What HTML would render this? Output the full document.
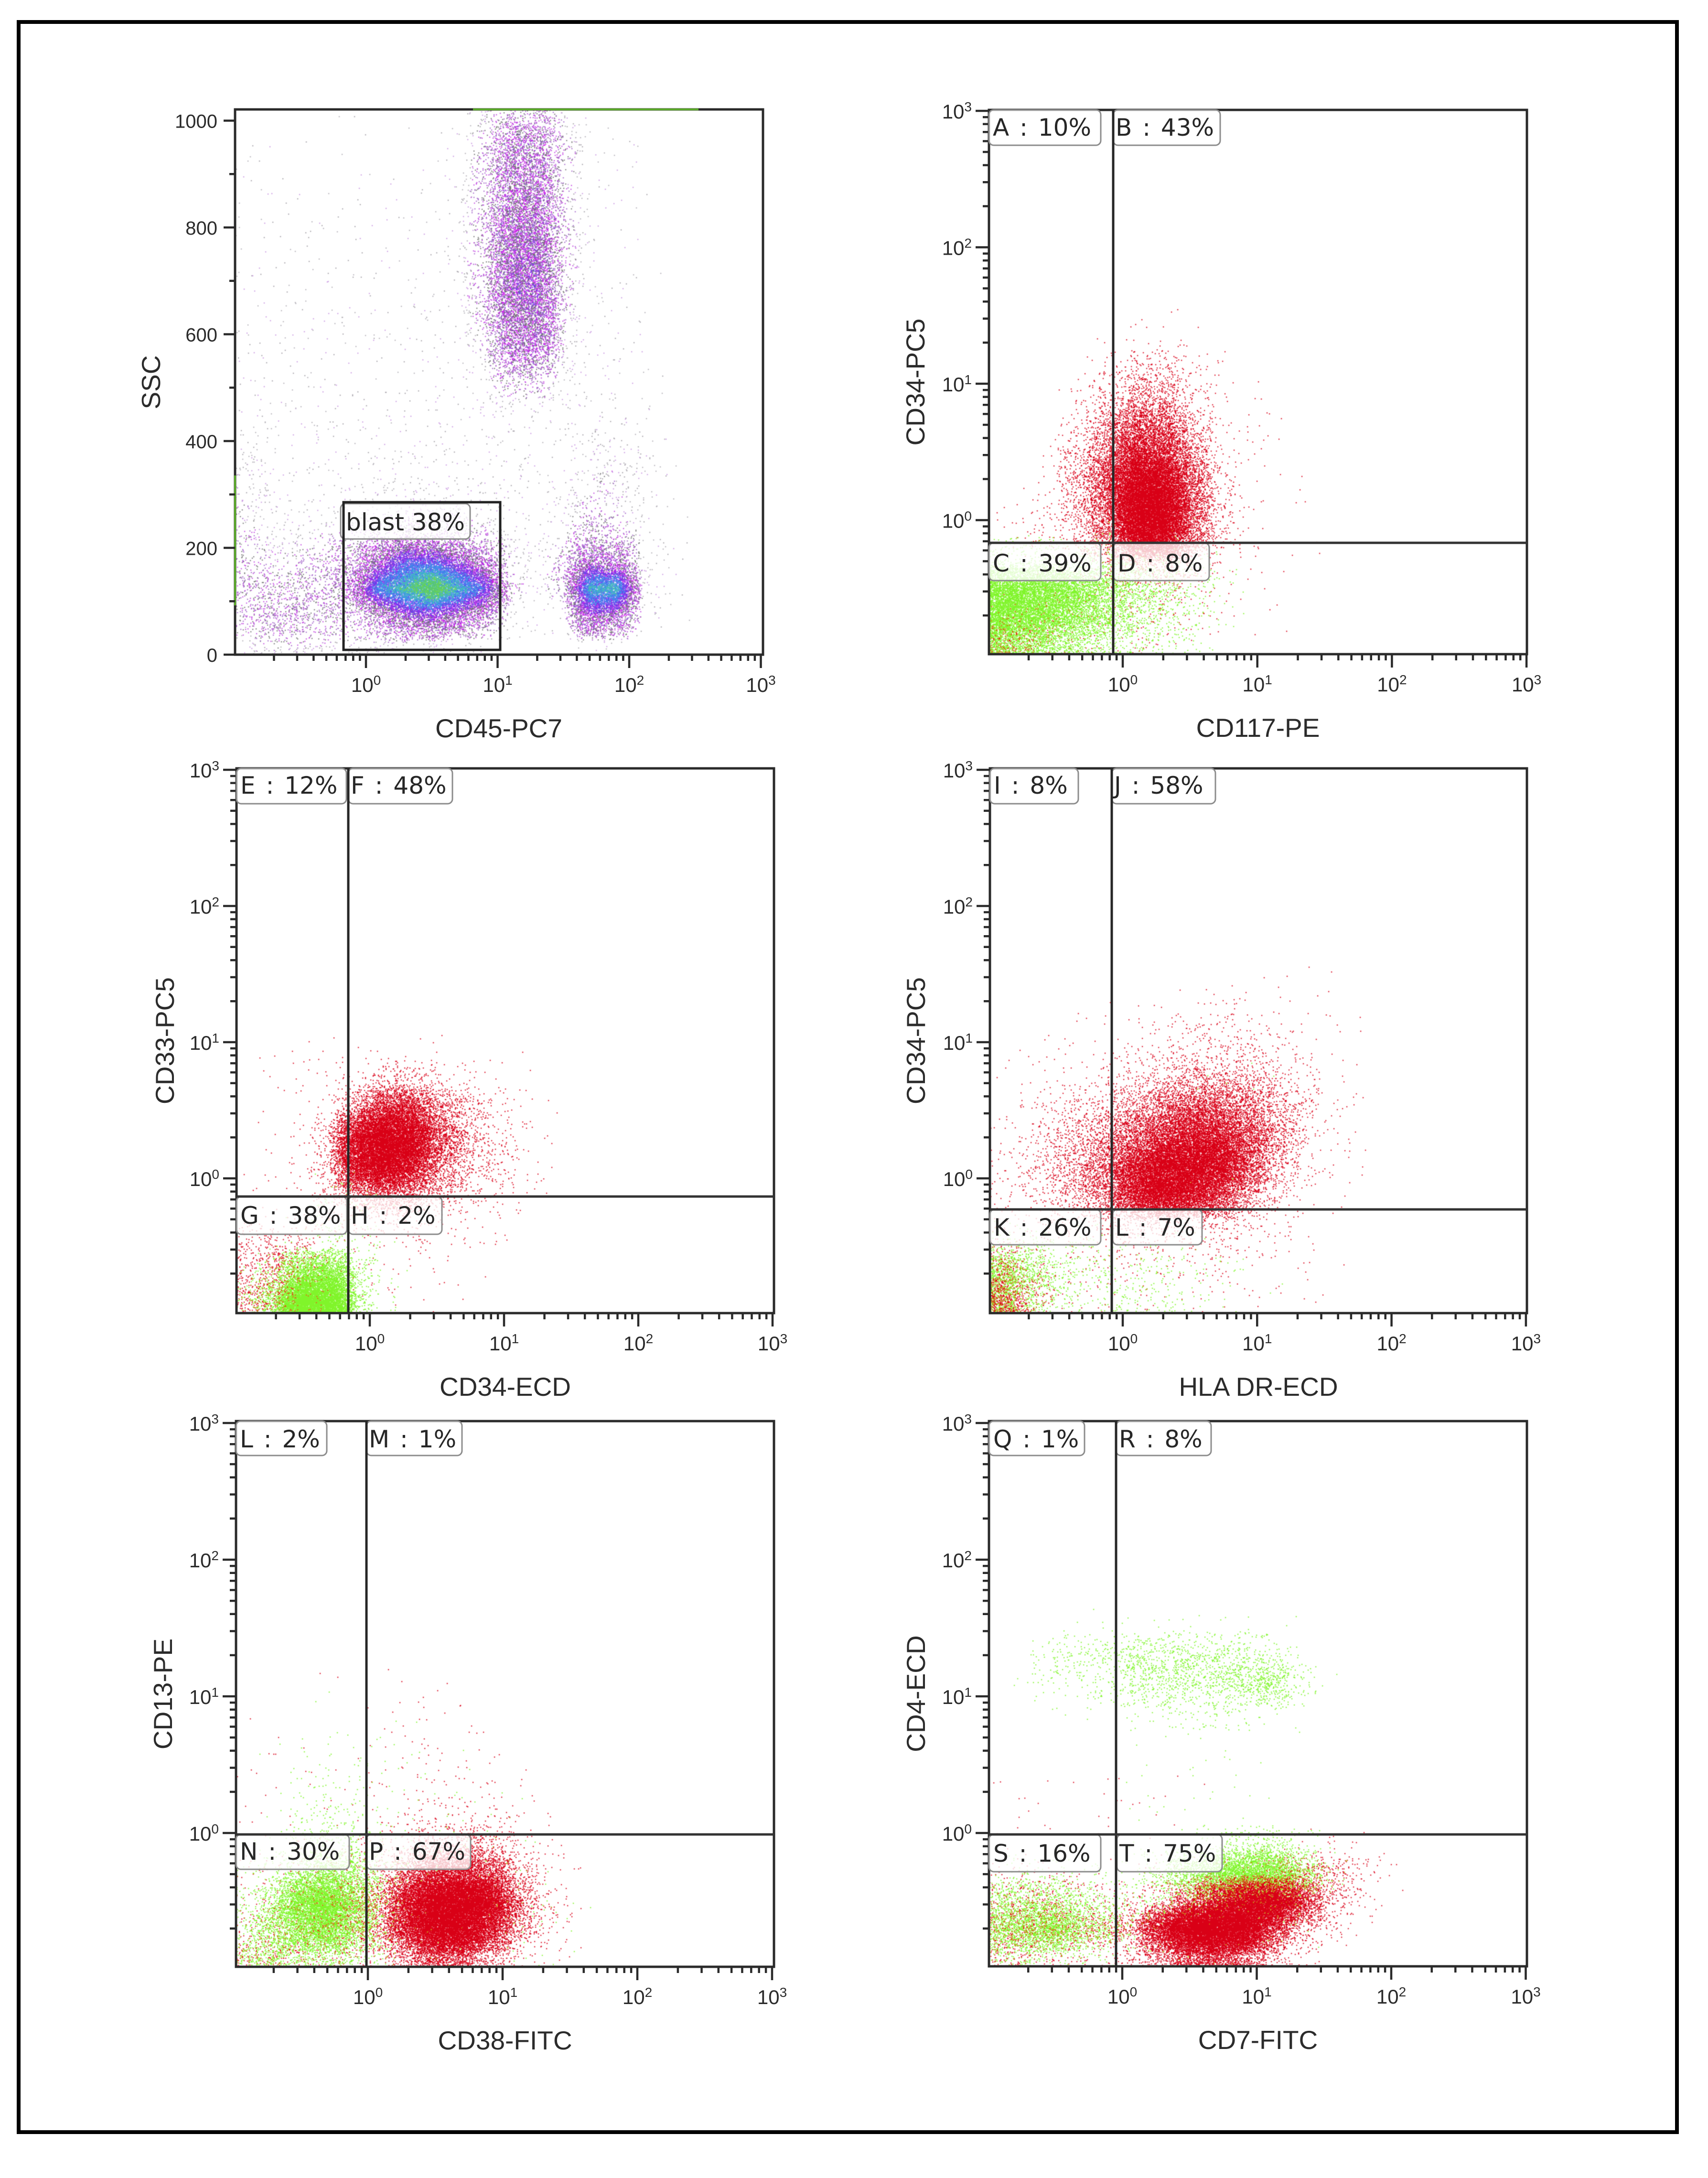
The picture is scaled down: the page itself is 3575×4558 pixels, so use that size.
<!DOCTYPE html>
<html lang="en">
<head>
<meta charset="utf-8">
<title>Flow cytometry dot plots</title>
<style>
html,body{margin:0;padding:0;background:#fff;}
svg{display:block;}
text{font-family:"Liberation Sans",sans-serif;fill:#2b2b2b;}
.tag{font-family:"DejaVu Sans","Liberation Sans",sans-serif;font-size:50px;fill:#262626;}
</style>
</head>
<body>
<svg id="chart" xmlns="http://www.w3.org/2000/svg" width="3575" height="4558" viewBox="0 0 3575 4558">
<defs><filter id="soft" x="-2%" y="-2%" width="104%" height="104%"><feGaussianBlur stdDeviation="0.8"/></filter></defs>
<rect x="0" y="0" width="3575" height="4558" fill="#ffffff"/>
<rect x="39" y="46" width="3471" height="4416" fill="none" stroke="#000" stroke-width="8"/>
</svg>
<script>
// Event density per grid cell.
// Log panels: columns start at log10 = -1 (0.2 decade wide); rows start at log10 = 1.6 going down (0.2 decade tall).
const cd117Green = [[],[],[],[],[],[],[],[],
 [0,0,0,0,5,5,5,2],
 [60,60,60,60,40,40,30,15,5],
 [500,500,450,350,200,120,70,30,8],
 [550,500,400,280,150,80,50,20,5],
 [300,250,180,120,60,30,20,10,3]];
const cd117Red = [
 [0,0,0,0,0,0,1,1],
 [0,0,0,0,1,8,8,3,1],
 [0,0,0,1,15,45,45,12,3,1],
 [0,0,0,8,50,110,110,30,5,2,1],
 [0,0,2,25,110,280,260,70,8,3,2],
 [0,0,8,60,210,500,450,160,15,3,2],
 [0,2,12,100,320,800,750,260,30,4,2,1],
 [1,8,15,90,300,1000,1000,300,40,5,1,1],
 [3,8,12,50,200,800,800,250,30,4,0,1],
 [1,1,3,10,40,80,80,40,12,4,1],
 [0,0,2,4,10,15,15,10,5,2,1],
 [10,15,15,12,10,12,10,6,2,1,1],
 [80,40,15,8,5,8,5,2]];
const cd34Green = [[],[],[],[],[],[],[],
 [0,0,0,1],
 [0,0,1,10,10,2],
 [0,0,4,15,8,2],
 [0,1,10,20,10,2],
 [10,60,400,500,60,3],
 [15,100,800,700,70,3],
 [20,120,500,400,40,2]];
const cd34Red = [[],[],
 [],
 [0,1,3,2,3,3,3,2,2,1,1],
 [0,2,3,4,10,50,60,30,12,5,2,1],
 [0,2,3,10,150,500,450,180,60,20,5,1],
 [0,2,3,60,600,1000,800,300,90,30,8,2],
 [1,2,5,50,600,900,600,200,70,30,10,3],
 [1,3,5,20,150,250,180,80,30,15,5,2],
 [1,2,5,10,20,25,20,12,6,3,1],
 [40,60,30,4,4,6,6,4,3,1],
 [60,80,30,3,3,4,4,3,1],
 [80,70,20,2,1,2,1,1]];
const hlaGreen = [[],[],[],[],
 [0,0,0,0,0,0,0,1,1,1,1],
 [],[],[],
 [0,0,0,0,0,0,1,1,1],
 [],
 [40,40,20,10,10,4,3,3,2,1],
 [250,130,50,25,20,20,20,8,4,2,1],
 [200,80,30,15,15,25,20,6,3,1]];
const hlaRed = [
 [0,0,0,0,0,0,0,0,0,0,1,0,1],
 [0,0,0,0,1,0,2,3,5,5,2,1,1],
 [0,0,1,1,1,3,8,12,16,16,8,4,2,1],
 [0,2,3,4,5,15,25,30,35,35,20,8,3,1],
 [2,4,6,8,15,40,70,100,110,90,50,20,5,1],
 [3,8,20,35,60,130,220,320,300,220,120,40,8,2],
 [6,12,40,90,150,280,420,550,550,350,170,40,5,2],
 [10,20,60,120,230,500,750,850,700,350,110,20,3,3],
 [12,18,40,90,220,600,800,650,450,160,40,10,2],
 [6,10,15,30,50,70,70,50,40,20,10,4,1],
 [30,8,6,8,12,15,12,10,20,10,6,3,1],
 [100,30,8,6,6,6,6,6,8,4,2,2,1],
 [250,70,8,3,3,3,2,2,2,1,1,1,1]];
const cd38Green = [[],[],[],
 [0,0,0,1,0,0,1],
 [0,0,1,1,1,2],
 [0,1,3,4,3,2,2,1,1],
 [0,1,6,12,8,3,2,1,1,1],
 [0,2,15,25,15,4,3,2,2,1,1],
 [2,5,25,50,40,10,5,3,3,2,1],
 [5,30,120,250,150,30,8,4,3,3,3,1],
 [20,120,500,650,300,50,10,5,5,5,5,3,1],
 [40,180,350,450,200,40,8,5,5,5,5,3,1],
 [80,120,100,100,60,15,4,2,2,2,2,1,1]];
const cd38Red = [[],[],
 [0,0,0,1,0,1,0,1],
 [0,0,0,0,0,2,2,2,1],
 [0,1,1,0,0,2,3,2,2,1],
 [1,1,1,0,1,2,3,4,4,2,1],
 [1,1,1,1,1,2,3,5,6,4,2],
 [1,1,1,1,2,3,8,12,15,12,5,2],
 [2,2,3,5,8,15,40,100,110,70,20,5,1],
 [5,8,10,15,20,50,200,450,500,350,80,10,3],
 [10,15,20,25,60,120,550,1100,1200,800,200,25,4],
 [15,25,30,40,60,120,500,1000,1000,500,100,20,3],
 [50,50,30,20,25,40,120,300,250,100,20,6,1]];
const cd7Green = [
 [0,0,1,1,1,2,2,2,2,2,1],
 [0,2,30,30,40,70,70,70,55,55,30,6],
 [0,3,16,12,22,70,70,70,75,110,150,30,1],
 [0,0,1,1,3,7,9,20,24,18,3,1],
 [0,0,0,0,0,0,0,1,1],
 [0,0,0,0,0,1,0,1,1,1],
 [0,0,0,0,0,1,1,1,1,1],
 [0,0,0,0,0,1,1,1,1,1,1],
 [0,0,0,0,0,1,3,10,25,50,70,30,4],
 [15,15,15,8,8,20,60,200,350,500,500,200,30],
 [100,130,120,70,25,15,30,50,100,100,80,20],
 [200,300,350,150,100,15,10,15,20,20,10,3],
 [40,50,20,15,5,3,2,2,2]];
const cd7Red = [[],[],[],[],[],[],
 [1,1,1,1,2,1,1,1],
 [1,1,1,1,1,1,1],
 [0,0,0,0,0,0,0,0,0,0,0,3,5,6,2],
 [10,10,8,5,3,3,3,3,5,10,30,70,90,25,8],
 [40,50,50,20,15,20,40,200,500,900,1000,500,90,20,3],
 [60,80,60,60,70,120,600,1200,1400,1100,400,70,25,2],
 [60,30,20,15,15,30,120,300,350,200,60,15,3]];
// CD45 / SSC panel: columns start at log10 = -1 (0.2 decade); rows start at SSC 1050 going down (50 units).
const sscDensity = [
 [0,0,0,0,0,0,0,0,0,15,60,60,12],
 [1,1,1,1,1,1,1,1,3,45,200,200,40,3,2,1],
 [2,1,1,1,1,1,1,1,5,60,250,250,45,3,2,1],
 [2,1,1,1,1,1,1,2,6,60,280,280,45,3,2,1],
 [3,2,2,2,2,2,2,2,6,60,320,320,45,3,2,1],
 [3,2,2,2,2,2,2,3,8,70,380,400,50,3,2,1],
 [3,3,2,2,2,2,2,3,8,70,400,420,50,3,3,1],
 [3,3,3,3,3,3,3,4,6,60,400,420,45,3,3,1],
 [3,4,4,4,3,3,3,4,5,50,350,380,40,4,3,2],
 [4,4,4,4,3,3,3,4,5,35,280,280,30,4,4,2],
 [5,4,4,4,3,3,3,4,5,15,100,100,15,5,5,2],
 [5,4,4,5,4,3,4,5,5,8,20,20,6,6,6,3,1],
 [8,6,5,5,4,4,5,6,5,6,8,8,5,10,10,5,1],
 [15,6,5,5,4,6,6,6,6,6,6,5,6,15,25,10,1],
 [25,8,5,5,6,10,10,10,8,8,6,5,10,25,30,10,1],
 [30,8,6,8,15,15,30,30,25,12,6,4,15,45,30,8,2],
 [35,15,20,30,40,70,90,100,80,40,15,5,20,90,70,12,2],
 [50,30,40,60,130,380,650,650,450,230,25,6,70,330,260,20,3],
 [80,70,80,90,230,800,1000,1300,950,650,50,8,60,900,950,20,3],
 [60,120,100,90,70,200,450,500,350,180,15,3,5,450,350,8,1],
 [20,40,40,30,25,30,30,25,12,5,1,0,0,8,5]];
const xDecades = [0,1,2,3];
const logExponents = [0,1,2,3];
const sscTicks = [0,200,400,600,800,1000];
const sscMinorTicks = [100,300,500,700,900];

const panelLayouts = [
 {key:'cd117',L:2070,R:3196,T:230,B:1369,x1:2350,xD:281.7,y1:1088.5,yD:285.5,vq:2330,hq:1136,xTitle:'CD117-PE',yTitle:'CD34-PC5',yTitleX:1935,green:cd117Green,red:cd117Red,
  tags:[['A : 10%',2070,2304,230,304,2078,284],['B : 43%',2330,2554,230,304,2335,284],['C : 39%',2070,2304,1136,1215,2078,1196],['D : 8%',2330,2531,1136,1215,2339,1196]]},
 {key:'cd34',L:495,R:1620,T:1608,B:2748,x1:774,xD:281,y1:2466,yD:285,vq:729,hq:2504,xTitle:'CD34-ECD',yTitle:'CD33-PC5',yTitleX:364,green:cd34Green,red:cd34Red,
  tags:[['E : 12%',495,725,1608,1682,503,1661],['F : 48%',729,947,1608,1682,734,1661],['G : 38%',495,726,2504,2583,503,2561],['H : 2%',729,925,2504,2583,734,2561]]},
 {key:'hla',L:2072,R:3196,T:1608,B:2748,x1:2350,xD:281.3,y1:2466,yD:285,vq:2327,hq:2531,xTitle:'HLA DR-ECD',yTitle:'CD34-PC5',yTitleX:1936,green:hlaGreen,red:hlaRed,
  tags:[['I : 8%',2072,2257,1608,1682,2080,1661],['J : 58%',2327,2544,1608,1682,2332,1661],['K : 26%',2072,2304,2531,2605,2080,2586],['L : 7%',2329,2516,2531,2605,2334,2586]]},
 {key:'cd38',L:494,R:1620,T:2974,B:4116,x1:770,xD:282,y1:3836,yD:286,vq:767,hq:3839,xTitle:'CD38-FITC',yTitle:'CD13-PE',yTitleX:360,green:cd38Green,red:cd38Red,
  tags:[['L : 2%',494,684,2974,3046,502,3029],['M : 1%',767,967,2974,3046,772,3029],['N : 30%',494,731,3839,3912,502,3892],['P : 67%',767,985,3839,3912,772,3892]]},
 {key:'cd7',L:2070,R:3196,T:2974,B:4115,x1:2349,xD:281.5,y1:3836,yD:286,vq:2336,hq:3839,xTitle:'CD7-FITC',yTitle:'CD4-ECD',yTitleX:1936,green:cd7Green,red:cd7Red,
  tags:[['Q : 1%',2070,2270,2974,3046,2079,3029],['R : 8%',2336,2535,2974,3046,2342,3029],['S : 16%',2070,2304,3839,3917,2079,3896],['T : 75%',2338,2558,3839,3917,2343,3896]]}
];
const sscLayout = {L:492,R:1597,T:229,B:1370,x1:766,xD:275.5,y0:1370,yPerUnit:1.1175};

const svg = document.getElementById('chart');
const NS = 'http://www.w3.org/2000/svg';
const SPREAD = 1;
const DOT = 2.2;
function make(parent, tag, geom){
  const el = document.createElementNS(NS, tag);
  for (const k in geom) el.setAttribute(k, geom[k]);
  parent.appendChild(el);
  return el;
}
// Deterministic jitter generator: only spreads each cell's count into a stipple texture.
let seedState = 12345;
function jitter(){
  seedState = (Math.imul(seedState, 1664525) + 1013904223) >>> 0;
  const v = seedState ^ (seedState >>> 15);
  return ((Math.imul(v, 2654435761) ^ (v >>> 9)) >>> 0) / 4294967296;
}
function triangle(){ return (jitter() + jitter() - 1) * SPREAD; }
// Cell value to stipple count: dense cells saturate to a solid fill as in the reference.
function dotCount(v){ return Math.round(v * (1.5 + Math.min(v, 800) / 600)); }
function sscDotCount(v){ return Math.round(v * (1.3 + Math.min(v, 800) / 1000)); }
function logTicks(){
  const out = [];
  for (let d = -1; d < 3; d++) for (let m = 2; m <= 9; m++) out.push(d + Math.log10(m));
  return out;
}
function drawExponentLabel(parent, x, y, anchor, exp, name){
  const t = make(parent, 'text', {x:x, y:y, 'text-anchor':anchor, 'font-size':42});
  
  
  t.appendChild(document.createTextNode('10'));
  const s = make(t, 'tspan', {dy:-15, 'font-size':28});
  s.textContent = String(exp);
}
function drawXAxis(g, p){
  let major = '', minor = '';
  xDecades.forEach(function(e){ major += 'M' + (p.x1 + e * p.xD) + ' ' + p.B + 'v28'; });
  logTicks().forEach(function(v){ minor += 'M' + (p.x1 + v * p.xD) + ' ' + p.B + 'v13'; });
  const a = make(g, 'path', {d:major + minor, stroke:'#2a2a2a', 'stroke-width':4.5, fill:'none'});
  
  
  xDecades.forEach(function(e){
    drawExponentLabel(g, p.x1 + e * p.xD, p.B + 78, 'middle', e, 'x-tick-label');
  });
}
function drawTitles(g, p, cx, cy, xTitle, yTitle, yTitleX){
  const xt = make(g, 'text', {x:cx, y:p.B + 173, 'text-anchor':'middle', 'font-size':55});
  
  
  xt.textContent = xTitle;
  const yt = make(g, 'text', {x:yTitleX, y:cy, 'text-anchor':'middle', 'font-size':55, transform:'rotate(-90 ' + yTitleX + ' ' + cy + ')'});
  
  
  yt.textContent = yTitle;
}
function drawFrame(g, p){
  const f = make(g, 'rect', {x:p.L, y:p.T, width:p.R - p.L, height:p.B - p.T, fill:'none', stroke:'#2a2a2a', 'stroke-width':5});
  
  
}
function plotGroups(g, p, id){
  const clip = make(svg.querySelector('defs'), 'clipPath', {id:id});
  make(clip, 'rect', {x:p.L, y:p.T, width:p.R - p.L, height:p.B - p.T});
  const outer = make(g, 'g', {'clip-path':'url(#' + id + ')'});
  
  
  const inner = make(outer, 'g', {filter:'url(#soft)'});
  return inner;
}
function stipple(rows, p){
  const parts = [];
  rows.forEach(function(row, r){
    row.forEach(function(count, c){
      const n = dotCount(count);
      for (let i = 0; i < n; i++){
        let lx = -1 + (c + 0.5 + triangle()) * 0.2;
        let ly = 1.6 - (r + 0.5 + triangle()) * 0.2;
        if (lx < -1) lx = -2 - lx;
        if (ly < -1) ly = -2 - ly;
        const px = Math.round(p.x1 + lx * p.xD);
        const py = Math.round(p.y1 - ly * p.yD);
        parts.push('M' + px + ' ' + py + 'h' + DOT + 'v' + DOT + 'h-' + DOT + 'z');
      }
    });
  });
  return parts.join('');
}
panelLayouts.forEach(function(p){
  const g = make(svg, 'g', {});
  
  
  const layer = plotGroups(g, p, 'clip-' + p.key);
  const gp = make(layer, 'path', {d:stipple(p.green, p), fill:'#80f52a'});
  
  
  const rp = make(layer, 'path', {d:stipple(p.red, p), fill:'#d90012'});
  
  
  drawFrame(g, p);
  drawXAxis(g, p);
  let major = '', minor = '';
  logExponents.forEach(function(e){ major += 'M' + p.L + ' ' + (p.y1 - e * p.yD) + 'h-28'; });
  logTicks().forEach(function(v){
    const y = p.y1 - v * p.yD;
    if (y < p.B) minor += 'M' + p.L + ' ' + y + 'h-13';
  });
  const ya = make(g, 'path', {d:major + minor, stroke:'#2a2a2a', 'stroke-width':4.5, fill:'none'});
  
  
  logExponents.forEach(function(e){
    drawExponentLabel(g, p.L - 36, p.y1 - e * p.yD + 16, 'end', e, 'y-tick-label');
  });
  p.tags.forEach(function(t){
    const box = make(g, 'rect', {x:t[1], y:t[3], width:t[2] - t[1], height:t[4] - t[3], rx:10, ry:10, fill:'rgba(255,255,255,0.78)', stroke:'#8c8c8c', 'stroke-width':3});
    
    
  });
  const vl = make(g, 'line', {x1:p.vq, x2:p.vq, y1:p.T, y2:p.B, stroke:'#262626', 'stroke-width':5});
  
  
  const hl = make(g, 'line', {x1:p.L, x2:p.R, y1:p.hq, y2:p.hq, stroke:'#333', 'stroke-width':5});
  
  
  p.tags.forEach(function(t){
    const tx = make(g, 'text', {x:t[5], y:t[6], class:'tag', 'word-spacing':6});
    
    
    tx.textContent = t[0];
  });
  drawTitles(g, p, (p.L + p.R) / 2, (p.T + p.B) / 2, p.xTitle, p.yTitle, p.yTitleX);
});

// CD45 / SSC density plot, coloured by local density
(function(){
  const p = sscLayout;
  const g = make(svg, 'g', {});
  
  
  const layer = plotGroups(g, p, 'clip-ssc');
  const bands = [
    {min:0, name:'sparse', colors:['#a09ca4','#c794e0','#b0acb4']},
    {min:30, name:'low', colors:['#707070','#c040e0','#a060c8']},
    {min:170, name:'mid', colors:['#c81ee8','#8a58d0','#c81ee8','#707070']},
    {min:500, name:'high', colors:['#a020f0','#6a40e8']},
    {min:750, name:'blue', colors:['#4468f0','#3f90e8']},
    {min:1000, name:'cyan', colors:['#3fa8d8','#48c0b0']},
    {min:1200, name:'peak', colors:['#70d840','#58c870']}
  ];
  const paths = {};
  bands.forEach(function(b){ b.colors.forEach(function(c){ paths[b.name + c] = []; }); });
  function cell(r, c){
    const row = sscDensity[r];
    if (!row) return 0;
    return row[c] || 0;
  }
  function density(fr, fc){
    const r0 = Math.floor(fr), c0 = Math.floor(fc), a = fr - r0, b = fc - c0;
    return (1 - a) * ((1 - b) * cell(r0, c0) + b * cell(r0, c0 + 1)) + a * ((1 - b) * cell(r0 + 1, c0) + b * cell(r0 + 1, c0 + 1));
  }
  sscDensity.forEach(function(row, r){
    row.forEach(function(count, c){
      const n = sscDotCount(count);
      for (let i = 0; i < n; i++){
        const fc = c + triangle();
        const fr = r + triangle();
        let lx = -1 + (fc + 0.5) * 0.2;
        let v = 1050 - (fr + 0.5) * 50;
        if (lx < -1) lx = -2 - lx;
        if (v < 0) v = -v;
        const dens = density(Math.max(fr, 0), Math.max(fc, 0)) * (0.7 + 0.6 * jitter());
        let band = bands[0];
        bands.forEach(function(b){ if (dens >= b.min) band = b; });
        const col = band.colors[Math.floor(jitter() * band.colors.length)];
        const px = Math.round(p.x1 + lx * p.xD);
        const py = Math.round(p.y0 - v * p.yPerUnit);
        paths[band.name + col].push('M' + px + ' ' + py + 'h' + DOT + 'v' + DOT + 'h-' + DOT + 'z');
      }
    });
  });
  bands.forEach(function(b){
    b.colors.filter(function(c, i, arr){ return arr.indexOf(c) === i; }).forEach(function(c){
      const el = make(layer, 'path', {d:paths[b.name + c].join(''), fill:c});
      
      
    });
  });
  drawFrame(g, p);
  const topStrip = make(g, 'rect', {x:990, y:227, width:472, height:4, fill:'#5aa82a'});
  
  
  const leftStrip = make(g, 'rect', {x:490, y:995, width:4, height:272, fill:'#5aa82a'});
  
  
  drawXAxis(g, p);
  let ticks = '';
  sscTicks.forEach(function(v){ ticks += 'M' + p.L + ' ' + (p.y0 - v * p.yPerUnit) + 'h-24'; });
  sscMinorTicks.forEach(function(v){ ticks += 'M' + p.L + ' ' + (p.y0 - v * p.yPerUnit) + 'h-12'; });
  const ya = make(g, 'path', {d:ticks, stroke:'#2a2a2a', 'stroke-width':4.5, fill:'none'});
  
  
  sscTicks.forEach(function(v){
    const t = make(g, 'text', {x:p.L - 37, y:p.y0 - v * p.yPerUnit + 15, 'text-anchor':'end', 'font-size':40});
    
    
    t.textContent = String(v);
  });
  const box = make(g, 'rect', {x:713, y:1054, width:271, height:74, rx:10, ry:10, fill:'rgba(255,255,255,0.78)', stroke:'#8c8c8c', 'stroke-width':3});
  
  
  const gate = make(g, 'rect', {x:719, y:1051, width:328, height:309, fill:'none', stroke:'#222', 'stroke-width':5});
  
  
  const lab = make(g, 'text', {x:724, y:1110, class:'tag'});
  
  
  lab.textContent = 'blast 38%';
  drawTitles(g, p, 1044, 800, 'CD45-PC7', 'SSC', 335);
})();
</script>
</body>
</html>
